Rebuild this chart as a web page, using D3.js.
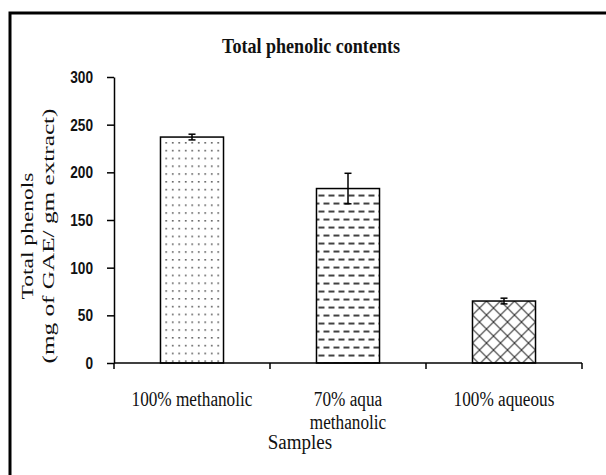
<!DOCTYPE html>
<html>
<head>
<meta charset="utf-8">
<script src="https://cdn.jsdelivr.net/npm/d3@7"></script>
<style>
  html, body { margin: 0; padding: 0; background: #fff; }
  svg { display: block; }
</style>
</head>
<body>
<svg id="chart" width="606" height="475"></svg>
<script>
// ---- data ----
const categories = ["100% methanolic", "70% aqua\nmethanolic", "100% aqueous"];
const values = [237, 183, 65];
const errors = [3, 16, 3];
const yTicks = [0, 50, 100, 150, 200, 250, 300];
const patterns = ["dots", "dashes", "cross"];
const chartTitle = "Total phenolic contents";
const xTitle = "Samples";
const yTitleLines = ["Total phenols", "(mg of GAE/ gm extract)"];

// ---- layout ----
const svg = d3.select("#chart");
const serif = "'Liberation Serif', 'Times New Roman', serif";
const sans = "'Liberation Sans', Arial, sans-serif";

// frame border
svg.append("rect").attr("x", 10).attr("y", 13).attr("width", 620).attr("height", 480)
  .attr("fill", "none").attr("stroke", "#000").attr("stroke-width", 3);

const x = d3.scaleBand().domain(categories).range([114, 582])
  .paddingInner(0.596).paddingOuter(0.298);
const y = d3.scaleLinear().domain([0, 300]).range([363, 77]);

// patterns
const defs = svg.append("defs");
const pDots = defs.append("pattern").attr("id", "dots").attr("patternUnits", "userSpaceOnUse")
  .attr("width", 6.5).attr("height", 7.8).attr("x", x(categories[0]) + 3).attr("y", y(values[0]) + 3);
pDots.append("rect").attr("width", 6.5).attr("height", 7.8).attr("fill", "#fff");
pDots.append("rect").attr("x", 2).attr("y", 2).attr("width", 1.5).attr("height", 1.5).attr("fill", "#444");

const pDash = defs.append("pattern").attr("id", "dashes").attr("patternUnits", "userSpaceOnUse")
  .attr("width", 10).attr("height", 16).attr("x", x(categories[1]) + 2).attr("y", y(values[1]) + 3);
pDash.append("rect").attr("width", 10).attr("height", 16).attr("fill", "#fff");
pDash.append("line").attr("x1", 0).attr("x2", 6).attr("y1", 4).attr("y2", 4).attr("stroke", "#111").attr("stroke-width", 1.6);
pDash.append("line").attr("x1", 5).attr("x2", 11).attr("y1", 12).attr("y2", 12).attr("stroke", "#111").attr("stroke-width", 1.6);
pDash.append("line").attr("x1", -5).attr("x2", 1).attr("y1", 12).attr("y2", 12).attr("stroke", "#111").attr("stroke-width", 1.6);

const pCross = defs.append("pattern").attr("id", "cross").attr("patternUnits", "userSpaceOnUse")
  .attr("width", 14).attr("height", 14).attr("x", x(categories[2])).attr("y", y(values[2]));
pCross.append("rect").attr("width", 14).attr("height", 14).attr("fill", "#fff");
pCross.append("path").attr("d", "M-1,-1L15,15M15,-1L-1,15").attr("stroke", "#333").attr("stroke-width", 1.1);

// bars
svg.append("g").selectAll("rect").data(categories).join("rect")
  .attr("x", d => x(d))
  .attr("y", (d, i) => y(values[i]))
  .attr("width", x.bandwidth())
  .attr("height", (d, i) => y(0) - y(values[i]))
  .attr("fill", (d, i) => `url(#${patterns[i]})`)
  .attr("stroke", "#000").attr("stroke-width", 1.5);

// error bars
const eg = svg.append("g").attr("stroke", "#000").attr("stroke-width", 1.5);
categories.forEach((c, i) => {
  const cx = x(c) + x.bandwidth() / 2;
  const y1 = y(values[i] + errors[i]), y2 = y(values[i] - errors[i]);
  eg.append("line").attr("x1", cx).attr("x2", cx).attr("y1", y1).attr("y2", y2);
  eg.append("line").attr("x1", cx - 3.5).attr("x2", cx + 3.5).attr("y1", y1).attr("y2", y1);
  eg.append("line").attr("x1", cx - 3.5).attr("x2", cx + 3.5).attr("y1", y2).attr("y2", y2);
});

// y axis
const yAxis = d3.axisLeft(y).tickValues(yTicks).tickSize(7).tickPadding(14).tickSizeOuter(0);
const gy = svg.append("g").attr("transform", "translate(114,0)").call(yAxis);
gy.select(".domain").attr("stroke-width", 1.5);
gy.selectAll(".tick line").attr("stroke-width", 1.5);
gy.selectAll(".tick text").attr("font-family", sans).attr("font-weight", "bold")
  .attr("font-size", 17).attr("fill", "#111")
  .attr("textLength", d => String(d).length * 7.6).attr("lengthAdjust", "spacingAndGlyphs");

// x axis
const gx = svg.append("g").attr("transform", `translate(0,${y(0)})`);
gx.append("line").attr("x1", x.range()[0]).attr("x2", x.range()[1]).attr("stroke", "#000").attr("stroke-width", 1.5);
const bounds = [x.range()[0]].concat(categories.map(c => x(c) + x.bandwidth() / 2 + x.step() / 2));
gx.selectAll(".bt").data(bounds).join("line").attr("class", "bt")
  .attr("x1", d => d).attr("x2", d => d).attr("y1", 0).attr("y2", 6)
  .attr("stroke", "#000").attr("stroke-width", 1.5);

// category labels
categories.forEach(c => {
  const cx = x(c) + x.bandwidth() / 2;
  c.split("\n").forEach((line, j) => {
    const t = svg.append("text").attr("x", cx).attr("y", 406 + j * 23)
      .attr("text-anchor", "middle").attr("font-family", serif).attr("font-size", 20).attr("fill", "#111")
      .text(line);
    const w = t.node().getComputedTextLength();
    t.attr("textLength", w * 0.86).attr("lengthAdjust", "spacingAndGlyphs");
  });
});

// x title
const xt = svg.append("text").attr("x", 300).attr("y", 449).attr("text-anchor", "middle")
  .attr("font-family", serif).attr("font-size", 20).attr("fill", "#111").text(xTitle);
xt.attr("textLength", xt.node().getComputedTextLength() * 0.95).attr("lengthAdjust", "spacingAndGlyphs");

// title
svg.append("text").attr("x", 311).attr("y", 53).attr("text-anchor", "middle")
  .attr("font-family", serif).attr("font-weight", "bold").attr("font-size", 22).attr("fill", "#111")
  .attr("textLength", 178).attr("lengthAdjust", "spacingAndGlyphs").text(chartTitle);

// y title
const yLens = [127, 255];
const yBase = [33, 54];
yTitleLines.forEach((line, j) => {
  svg.append("text").attr("transform", `translate(${yBase[j]},236) rotate(-90)`)
    .attr("text-anchor", "middle").attr("font-family", serif).attr("font-size", 17).attr("fill", "#111")
    .attr("textLength", yLens[j]).attr("lengthAdjust", "spacingAndGlyphs").text(line);
});
</script>
</body>
</html>
